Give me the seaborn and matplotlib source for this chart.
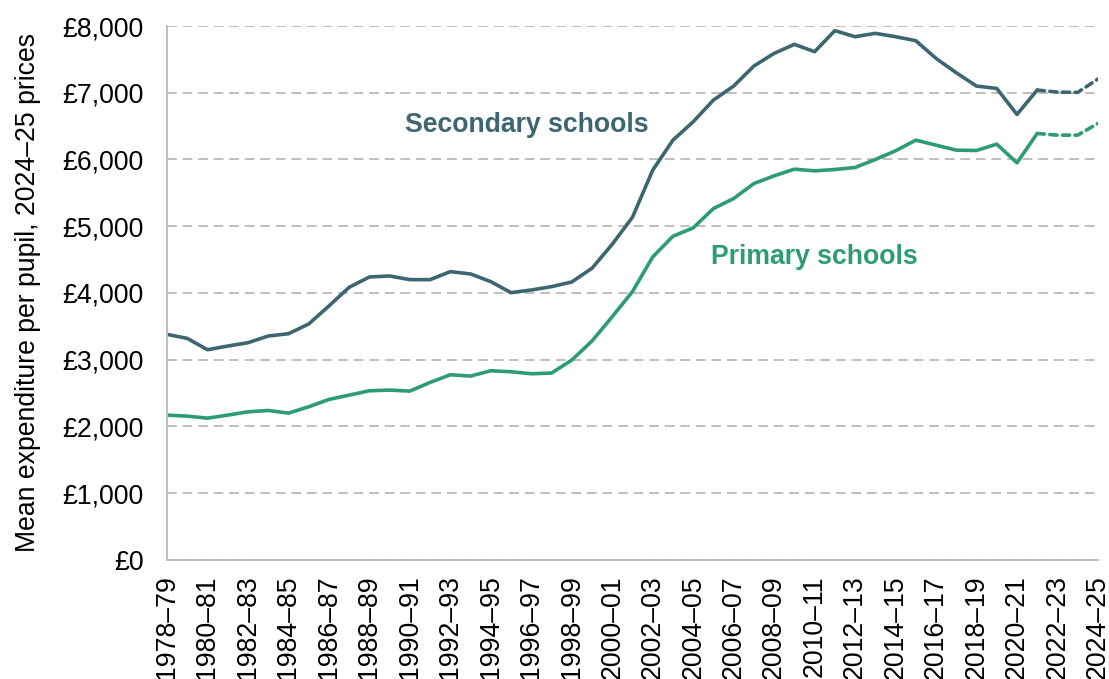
import numpy as np
import pandas as pd
import matplotlib
matplotlib.use("Agg")
import matplotlib.pyplot as plt
import seaborn as sns

# ---------------------------------------------------------------
# Data: mean expenditure per pupil (2024-25 prices)
# ---------------------------------------------------------------
years = [f"{y}\u2013{str(y + 1)[-2:]}" for y in range(1978, 2025)]

secondary = [3380, 3320, 3150, 3205, 3255, 3355, 3390, 3535, 3805, 4085,
             4240, 4255, 4200, 4200, 4320, 4285, 4170, 4005, 4045, 4095,
             4165, 4370, 4730, 5135, 5840, 6290, 6565, 6890, 7100, 7400,
             7590, 7725, 7615, 7930, 7840, 7890, 7840, 7780, 7515, 7300,
             7100, 7065, 6675, 7040, 7010, 7005, 7205]

primary = [2170, 2155, 2125, 2170, 2220, 2240, 2200, 2295, 2405, 2470,
           2535, 2545, 2530, 2660, 2775, 2755, 2835, 2820, 2790, 2800,
           2995, 3280, 3645, 4020, 4540, 4850, 4975, 5265, 5415, 5640,
           5755, 5855, 5830, 5850, 5880, 6000, 6130, 6290, 6215, 6140,
           6135, 6230, 5950, 6390, 6365, 6365, 6540]

FORECAST_FROM = "2021\u201322"   # dashed from here on

SEC_COL = "#3D6670"
PRI_COL = "#2E9C72"
GRID_COL = "#BFBFBF"
FS = 19.2

# ---------------------------------------------------------------
# Build frame
# ---------------------------------------------------------------
df = pd.DataFrame({"year": years, "Secondary": secondary, "Primary": primary})
df["idx"] = np.arange(len(df))
cut = years.index(FORECAST_FROM)
hist = df[df["idx"] <= cut]
proj = df[df["idx"] >= cut]

# ---------------------------------------------------------------
# Plot
# ---------------------------------------------------------------
sns.set_theme(style="white")
plt.rcParams["font.family"] = ["Liberation Sans", "DejaVu Sans"]

fig = plt.figure(figsize=(11.09, 6.79), dpi=100)
ax = fig.add_axes([0.1506, 0.1753, 0.8394, 0.7864])

ax.yaxis.grid(True, color=GRID_COL, linestyle=(0, (5, 3)), linewidth=1.4)
ax.set_axisbelow(True)

for col, colour in [("Secondary", SEC_COL), ("Primary", PRI_COL)]:
    sns.lineplot(data=hist, x="idx", y=col, color=colour, linewidth=2.6,
                 ax=ax, solid_capstyle="round")
    sns.lineplot(data=proj, x="idx", y=col, color=colour, linewidth=2.6,
                 ax=ax, dashes=False, linestyle=(0, (2.0, 1.5)),
                 dash_capstyle="round")

ax.set_xlim(0, len(years) - 1)
ax.set_ylim(0, 8000)
ax.set_yticks(np.arange(0, 8001, 1000))
ax.set_yticklabels([f"£{v:,.0f}" for v in np.arange(0, 8001, 1000)])
ax.set_xticks(df["idx"])
ax.set_xticklabels([y if i % 2 == 0 else "" for i, y in enumerate(years)],
                   rotation=90)

ax.tick_params(axis="both", labelsize=FS, labelcolor="black")
ax.tick_params(axis="x", direction="out", length=7, width=1.2,
               color=GRID_COL, pad=4)
ax.tick_params(axis="y", direction="out", length=6, width=1.2,
               color=GRID_COL, pad=11)

for side in ["top", "right"]:
    ax.spines[side].set_visible(False)
for side in ["left", "bottom"]:
    ax.spines[side].set_color(GRID_COL)
    ax.spines[side].set_linewidth(1.4)

ax.set_xlabel("")
ax.set_ylabel("Mean expenditure per pupil, 2024\u201325 prices",
              fontsize=FS, labelpad=15, color="black")

ax.text(11.75, 6520, "Secondary schools", color=SEC_COL, fontsize=FS,
        fontweight="bold", va="center", ha="left")
ax.text(26.9, 4540, "Primary schools", color=PRI_COL, fontsize=FS,
        fontweight="bold", va="center", ha="left")

fig.savefig("out.png", dpi=100)
